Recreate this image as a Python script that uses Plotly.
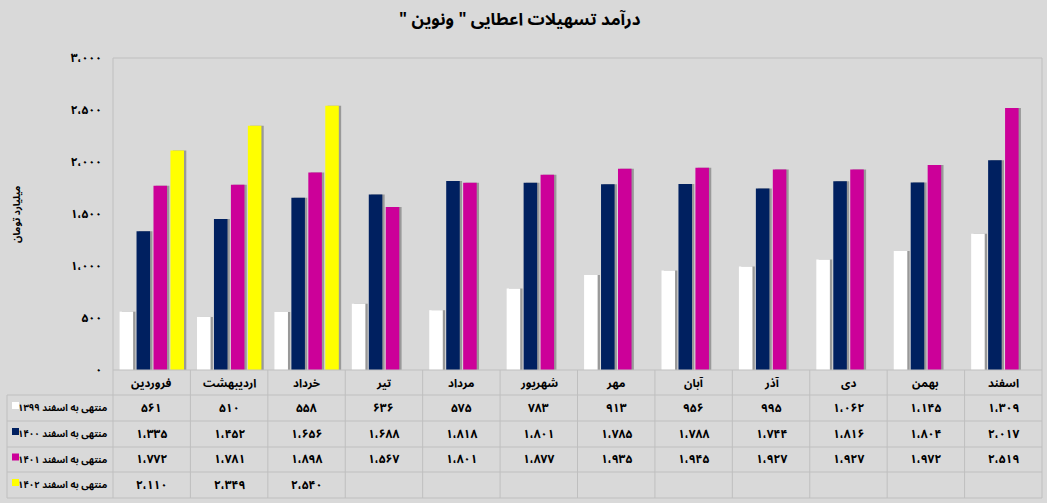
import plotly.graph_objects as go

# ---------------- data ----------------
months = ["فروردین", "اردیبهشت", "خرداد", "تیر", "مرداد", "شهریور",
          "مهر", "آبان", "آذر", "دی", "بهمن", "اسفند"]
s1399 = [561, 510, 558, 636, 575, 783, 913, 956, 995, 1062, 1145, 1309]
s1400 = [1335, 1452, 1656, 1688, 1818, 1801, 1785, 1788, 1744, 1816, 1804, 2017]
s1401 = [1772, 1781, 1898, 1567, 1801, 1877, 1935, 1945, 1927, 1927, 1972, 2519]
s1402 = [2110, 2349, 2540, None, None, None, None, None, None, None, None, None]
series_names = ["منتهی به اسفند ۱۳۹۹", "منتهی به اسفند ۱۴۰۰",
                "منتهی به اسفند ۱۴۰۱", "منتهی به اسفند ۱۴۰۲"]
series_values = [s1399, s1400, s1401, s1402]
colors = ["#FFFFFF", "#002060", "#CC0099", "#FFFF00"]
y_ticks = [0, 500, 1000, 1500, 2000, 2500, 3000]
title_text = "درآمد تسهیلات اعطایی \" ونوین \"\u200f"
y_title = "میلیارد تومان"

# ---------------- helpers ----------------
FA_DIGITS = str.maketrans("0123456789", "۰۱۲۳۴۵۶۷۸۹")


def fa(n):
    return f"{n:,}".translate(FA_DIGITS).replace(",", "\u060c")


W, H = 1047, 503
L, R, T, B = 113, 1042, 58, 370  # plot area in pixels


def px(p):
    return (p - L) / (R - L)


def py(p):
    return (B - p) / (B - T)


FONT = "Noto Sans Arabic, Noto Naskh Arabic, DejaVu Sans"
GRID = "#BFBFBF"
BG = "#D9D9D9"

fig = go.Figure()

slot = 0.219
bw = 0.175
start = -0.415

# shadows
for i, vals in enumerate(series_values):
    fig.add_trace(go.Bar(x=months, y=vals, offset=start + i * slot + 0.03,
                         width=bw, marker=dict(color="#999999", line_width=0),
                         showlegend=False, hoverinfo="skip"))
# bars
for i, (name, vals) in enumerate(zip(series_names, series_values)):
    fig.add_trace(go.Bar(x=months, y=vals, name=name, offset=start + i * slot,
                         width=bw, marker=dict(color=colors[i], line_width=0),
                         showlegend=False))

annotations = []
shapes = []


def txt(text, x, y, xref="paper", size=11, xanchor="center", **kw):
    return dict(text=text, xref=xref, yref="paper", x=x, y=y, showarrow=False,
                xanchor=xanchor, yanchor="middle",
                font=dict(family=FONT, size=size, color="#000", weight="bold"), **kw)


# title
annotations.append(txt(title_text, px(520), py(20), size=17))
# y title
annotations.append(txt(y_title, px(16), py(214), size=10, textangle=-90))

# table rows (pixel boundaries)
rows = [370, 395, 421, 447, 472, 498]
row_c = [(rows[k] + rows[k + 1]) / 2 for k in range(5)]

# header: month names
for m in months:
    annotations.append(txt(m, m, py(row_c[0]), xref="x", size=11.5))
# values
for r, vals in enumerate(series_values):
    for m, v in zip(months, vals):
        if v is None:
            continue
        annotations.append(txt(fa(v), m, py(row_c[r + 1]), xref="x", size=12))
    # legend label + key
    annotations.append(txt(series_names[r], px(110), py(row_c[r + 1]),
                           size=9.5, xanchor="right"))
    shapes.append(dict(type="rect", xref="paper", yref="paper",
                       x0=px(12), x1=px(19), y0=py(row_c[r + 1] + 1), y1=py(row_c[r + 1] - 6),
                       fillcolor=colors[r], line=dict(width=0)))

# grid lines of the table / plot border
line = dict(color=GRID, width=1)
shapes.append(dict(type="line", xref="paper", yref="paper", x0=0, x1=1,
                   y0=py(T), y1=py(T), line=line))
shapes.append(dict(type="line", xref="paper", yref="paper", x0=0, x1=1,
                   y0=py(rows[0]), y1=py(rows[0]), line=line))
for yb in rows[1:]:
    shapes.append(dict(type="line", xref="paper", yref="paper", x0=px(7), x1=1,
                       y0=py(yb), y1=py(yb), line=line))
shapes.append(dict(type="line", xref="paper", yref="paper", x0=px(7), x1=px(7),
                   y0=py(rows[1]), y1=py(rows[-1]), line=line))
shapes.append(dict(type="line", xref="paper", yref="paper", x0=0, x1=0,
                   y0=py(T), y1=py(rows[-1]), line=line))
shapes.append(dict(type="line", xref="paper", yref="paper", x0=1, x1=1,
                   y0=py(T), y1=py(rows[-1]), line=line))
for k in range(1, len(months)):
    shapes.append(dict(type="line", xref="x", yref="paper", x0=k - 0.5, x1=k - 0.5,
                       y0=py(rows[0]), y1=py(rows[-1]), line=line))

fig.update_layout(
    width=W, height=H,
    margin=dict(l=L, r=W - R, t=T, b=H - B, pad=0),
    paper_bgcolor=BG, plot_bgcolor=BG,
    barmode="overlay",
    showlegend=False,
    annotations=annotations,
    shapes=shapes,
    font=dict(family=FONT, color="#000"),
    xaxis=dict(type="category", range=[-0.5, 11.5], showticklabels=False,
               showgrid=False, zeroline=False, showline=False, ticks=""),
    yaxis=dict(range=[0, 3000], tickvals=y_ticks, ticktext=[fa(v) for v in y_ticks],
               showgrid=False, zeroline=False, showline=False, ticks="",
               ticklabelstandoff=10,
               tickfont=dict(family=FONT, size=12, color="#000", weight="bold")),
)

fig.write_html("out.html",
               config={"displayModeBar": False},
               post_script="document.body.style.margin='0';"
                           "document.body.style.background='#D9D9D9';")
